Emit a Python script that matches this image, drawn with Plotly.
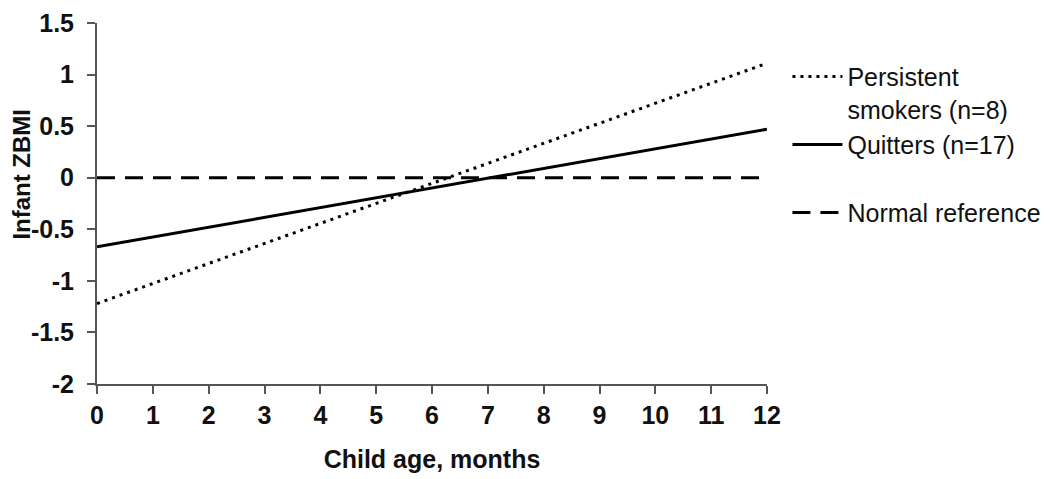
import plotly.graph_objects as go

months = [0, 12]
persistent = [-1.22, 1.11]
quitters = [-0.67, 0.47]
normal = [0, 0]
x_ticks = list(range(0, 13))
y_ticks = [-2, -1.5, -1, -0.5, 0, 0.5, 1, 1.5]
y_tick_labels = ["-2", "-1.5", "-1", "-0.5", "0", "0.5", "1", "1.5"]

FONT = "Liberation Sans, Arial, sans-serif"
TXT = "#111"

fig = go.Figure()
fig.add_trace(go.Scatter(x=months, y=persistent, mode="lines",
                         name="Persistent<br>smokers (n=8)",
                         line=dict(color="black", width=3, dash="3px,5px")))
fig.add_trace(go.Scatter(x=months, y=quitters, mode="lines",
                         name="Quitters (n=17)<br> ",
                         line=dict(color="black", width=3)))
fig.add_trace(go.Scatter(x=months, y=normal, mode="lines",
                         name="Normal reference",
                         line=dict(color="black", width=3, dash="18px,10px")))

fig.update_layout(
    width=1050, height=479,
    margin=dict(l=89, r=291, t=15, b=103, autoexpand=False),
    paper_bgcolor="white", plot_bgcolor="white",
    font=dict(family=FONT, color=TXT),
    showlegend=True,
    legend=dict(x=1.0305, y=0.915, xanchor="left", yanchor="top",
                valign="top", itemwidth=50,
                font=dict(family=FONT, size=25, color=TXT),
                bgcolor="rgba(0,0,0,0)", tracegroupgap=0),
    annotations=[dict(text="Infant ZBMI", textangle=-90, xref="paper", x=0,
                      xshift=-75, xanchor="center", yref="y", y=0.03,
                      yanchor="middle", showarrow=False,
                      font=dict(family=FONT, size=24, weight="bold", color=TXT))],
)
fig.update_xaxes(range=[0, 12], tickvals=x_ticks, showgrid=False, zeroline=False,
                 automargin=False, ticklabeloverflow="allow",
                 showline=True, linecolor="#555", linewidth=2,
                 ticks="outside", ticklen=8, tickwidth=2, tickcolor="#555",
                 ticklabelstandoff=0,
                 tickfont=dict(family=FONT, size=25, weight="bold", color=TXT),
                 title=dict(text="Child age, months", standoff=22,
                            font=dict(family=FONT, size=25, weight="bold", color=TXT)))
fig.update_yaxes(range=[-2, 1.5], tickvals=y_ticks, ticktext=y_tick_labels,
                 showgrid=False, zeroline=False, automargin=False,
                 ticklabeloverflow="allow",
                 showline=True, linecolor="#555", linewidth=2,
                 ticks="outside", ticklen=8, tickwidth=2, tickcolor="#555",
                 ticklabelstandoff=8,
                 tickfont=dict(family=FONT, size=25, weight="bold", color=TXT))

fig.write_html("out.html")
